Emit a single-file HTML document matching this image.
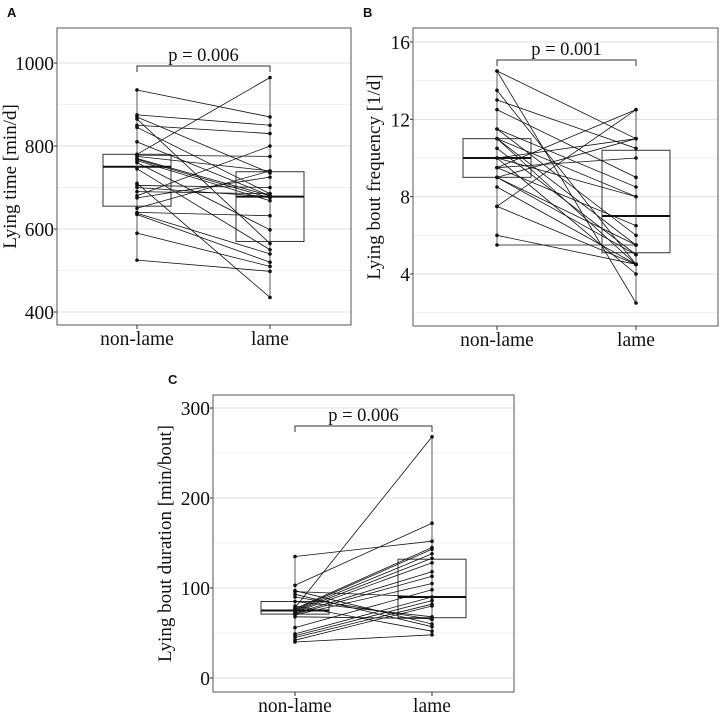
<!DOCTYPE html>
<html><head><meta charset="utf-8"><style>
body{margin:0;background:#fff}
svg{display:block}
text{font-family:"Liberation Serif",serif;fill:#111}
.lab{font-family:"Liberation Sans",sans-serif;font-weight:bold;font-size:13px}
</style></head><body>
<svg id="c" width="722" height="714"></svg>
<script>
const groups=["non-lame","lame"];
const aNon=[935,875,870,865,850,845,810,780,778,775,770,768,765,760,745,710,705,700,690,680,675,650,640,638,635,590,525];
const aLame=[870,850,735,565,830,685,680,965,775,740,680,675,668,598,550,435,700,678,685,800,725,740,632,540,520,510,498];
const aBox=[[655,750,780],[570,678,738]];
const aTicks=[400,600,800,1000];
const bNon=[14.5,14.5,13.5,13,12.5,11.5,11.5,11,11,11,10.5,10,10,10,9.5,9.5,9.5,9,9,9,8.5,7.5,7.5,6,5.5];
const bLame=[11,2.5,4.5,10.5,9,8.5,6,8,5.5,4.5,5,11,8,4,12.5,6.5,10,11,5.5,5,4.5,12.5,4.5,4.5,5.5];
const bBox=[[9,10,11],[5.1,7,10.4]];
const bTicks=[4,8,12,16];
const cNon=[135,103,97,96,93,90,78,77,76,75,74,73,72,71,70,68,56,49,47,45,42,40,80,85];
const cLame=[152,172,60,90,57,65,268,145,143,138,133,128,118,113,105,66,98,90,86,82,80,48,52,68];
const cBox=[[71,75,85],[67,90,132]];
const cTicks=[0,100,200,300];

const svg=document.getElementById('c');
const NS='http://www.w3.org/2000/svg';
function mk(tag,attrs,parent,txt){const e=document.createElementNS(NS,tag);for(const k in attrs)e.setAttribute(k,attrs[k]);if(txt!==undefined)e.textContent=txt;parent.appendChild(e);return e;}

function panel(cfg){
  const g=mk('g',{},svg);
  
  
  const y=v=>cfg.y0+(v-cfg.t0)*(cfg.y1-cfg.y0)/(cfg.t1-cfg.t0);
  const xs=[cfg.xn,cfg.xl];
  const step=cfg.ticks[1]-cfg.ticks[0];
  for(let v=cfg.ticks[0]-step/2;v<=cfg.ticks[cfg.ticks.length-1]+step/2;v+=step/2){
    const yy=y(v); if(yy<cfg.top||yy>cfg.bot) continue;
    const major=cfg.ticks.includes(Math.round(v*100)/100);
    const l=mk('line',{x1:cfg.left,x2:cfg.right,y1:yy,y2:yy,stroke:major?'#e0e0e0':'#f0f0f0','stroke-width':1},g);
    
    
  }
  cfg.ticks.forEach(t=>{
    const yy=y(t);
    mk('line',{x1:cfg.left-3,x2:cfg.left,y1:yy,y2:yy,stroke:'#333'},g);
    const tx=mk('text',{x:cfg.left-3,y:yy+7,'text-anchor':'end','font-size':19.5},g,String(t));
    
    
  });
  cfg.box.forEach((b,i)=>{
    const r=mk('rect',{x:xs[i]-34,y:y(b[2]),width:68,height:y(b[0])-y(b[2]),fill:'none',stroke:'#333','stroke-width':1},g);
    
    
    const m=mk('line',{x1:xs[i]-34,x2:xs[i]+34,y1:y(b[1]),y2:y(b[1]),stroke:'#111','stroke-width':2},g);
    
    
  });
  [cfg.non,cfg.lame].forEach((arr,i)=>{
    mk('line',{x1:xs[i],x2:xs[i],y1:y(Math.max(...arr)),y2:y(Math.min(...arr)),stroke:'#333','stroke-width':0.8},g);
  });
  cfg.non.forEach((v,i)=>{
    const l=mk('line',{x1:xs[0],y1:y(v),x2:xs[1],y2:y(cfg.lame[i]),stroke:'#111','stroke-width':0.8},g);
    
    
    [[xs[0],v],[xs[1],cfg.lame[i]]].forEach(p=>{
      const c=mk('circle',{cx:p[0],cy:y(p[1]),r:1.8,fill:'#111'},g);
      
      
    });
  });
  const f=mk('rect',{x:cfg.left,y:cfg.top,width:cfg.right-cfg.left,height:cfg.bot-cfg.top,fill:'none',stroke:'#555','stroke-width':1},g);
  
  
  const bp=mk('path',{d:`M${xs[0]},${cfg.br+6}V${cfg.br}H${xs[1]}V${cfg.br+6}`,fill:'none',stroke:'#333'},g);
  
  
  const pt=mk('text',{x:(xs[0]+xs[1])/2,y:cfg.br-5,'text-anchor':'middle','font-size':18.5},g,cfg.p);
  
  
  groups.forEach((n,i)=>{
    mk('line',{x1:xs[i],x2:xs[i],y1:cfg.bot,y2:cfg.bot+4,stroke:'#333'},g);
    const t=mk('text',{x:xs[i],y:cfg.bot+20,'text-anchor':'middle','font-size':19.5},g,n);
    
    
  });
  const yt=mk('text',{x:0,y:0,'text-anchor':'middle','font-size':19,transform:`translate(${cfg.ytx},${(cfg.top+cfg.bot)/2}) rotate(-90)`},g,cfg.ytitle);
  
  
  const pl=mk('text',{x:cfg.lx,y:cfg.ly,class:'lab'},g,cfg.id);
  
  
}
panel({id:'A',left:57,right:351,top:28,bot:325,xn:137,xl:270,t0:400,t1:1000,y0:312,y1:63,ticks:aTicks,non:aNon,lame:aLame,box:aBox,br:66,p:'p = 0.006',ytx:16,ytitle:'Lying time [min/d]',lx:7,ly:17});
panel({id:'B',left:413,right:718,top:28,bot:326,xn:497,xl:636,t0:4,t1:16,y0:274,y1:42,ticks:bTicks,non:bNon,lame:bLame,box:bBox,br:60,p:'p = 0.001',ytx:380,ytitle:'Lying bout frequency [1/d]',lx:363,ly:17});
panel({id:'C',left:213,right:514,top:395,bot:692,xn:295,xl:432,t0:0,t1:300,y0:678,y1:408,ticks:cTicks,non:cNon,lame:cLame,box:cBox,br:426,p:'p = 0.006',ytx:171,ytitle:'Lying bout duration [min/bout]',lx:168,ly:384});
</script>
</body></html>
